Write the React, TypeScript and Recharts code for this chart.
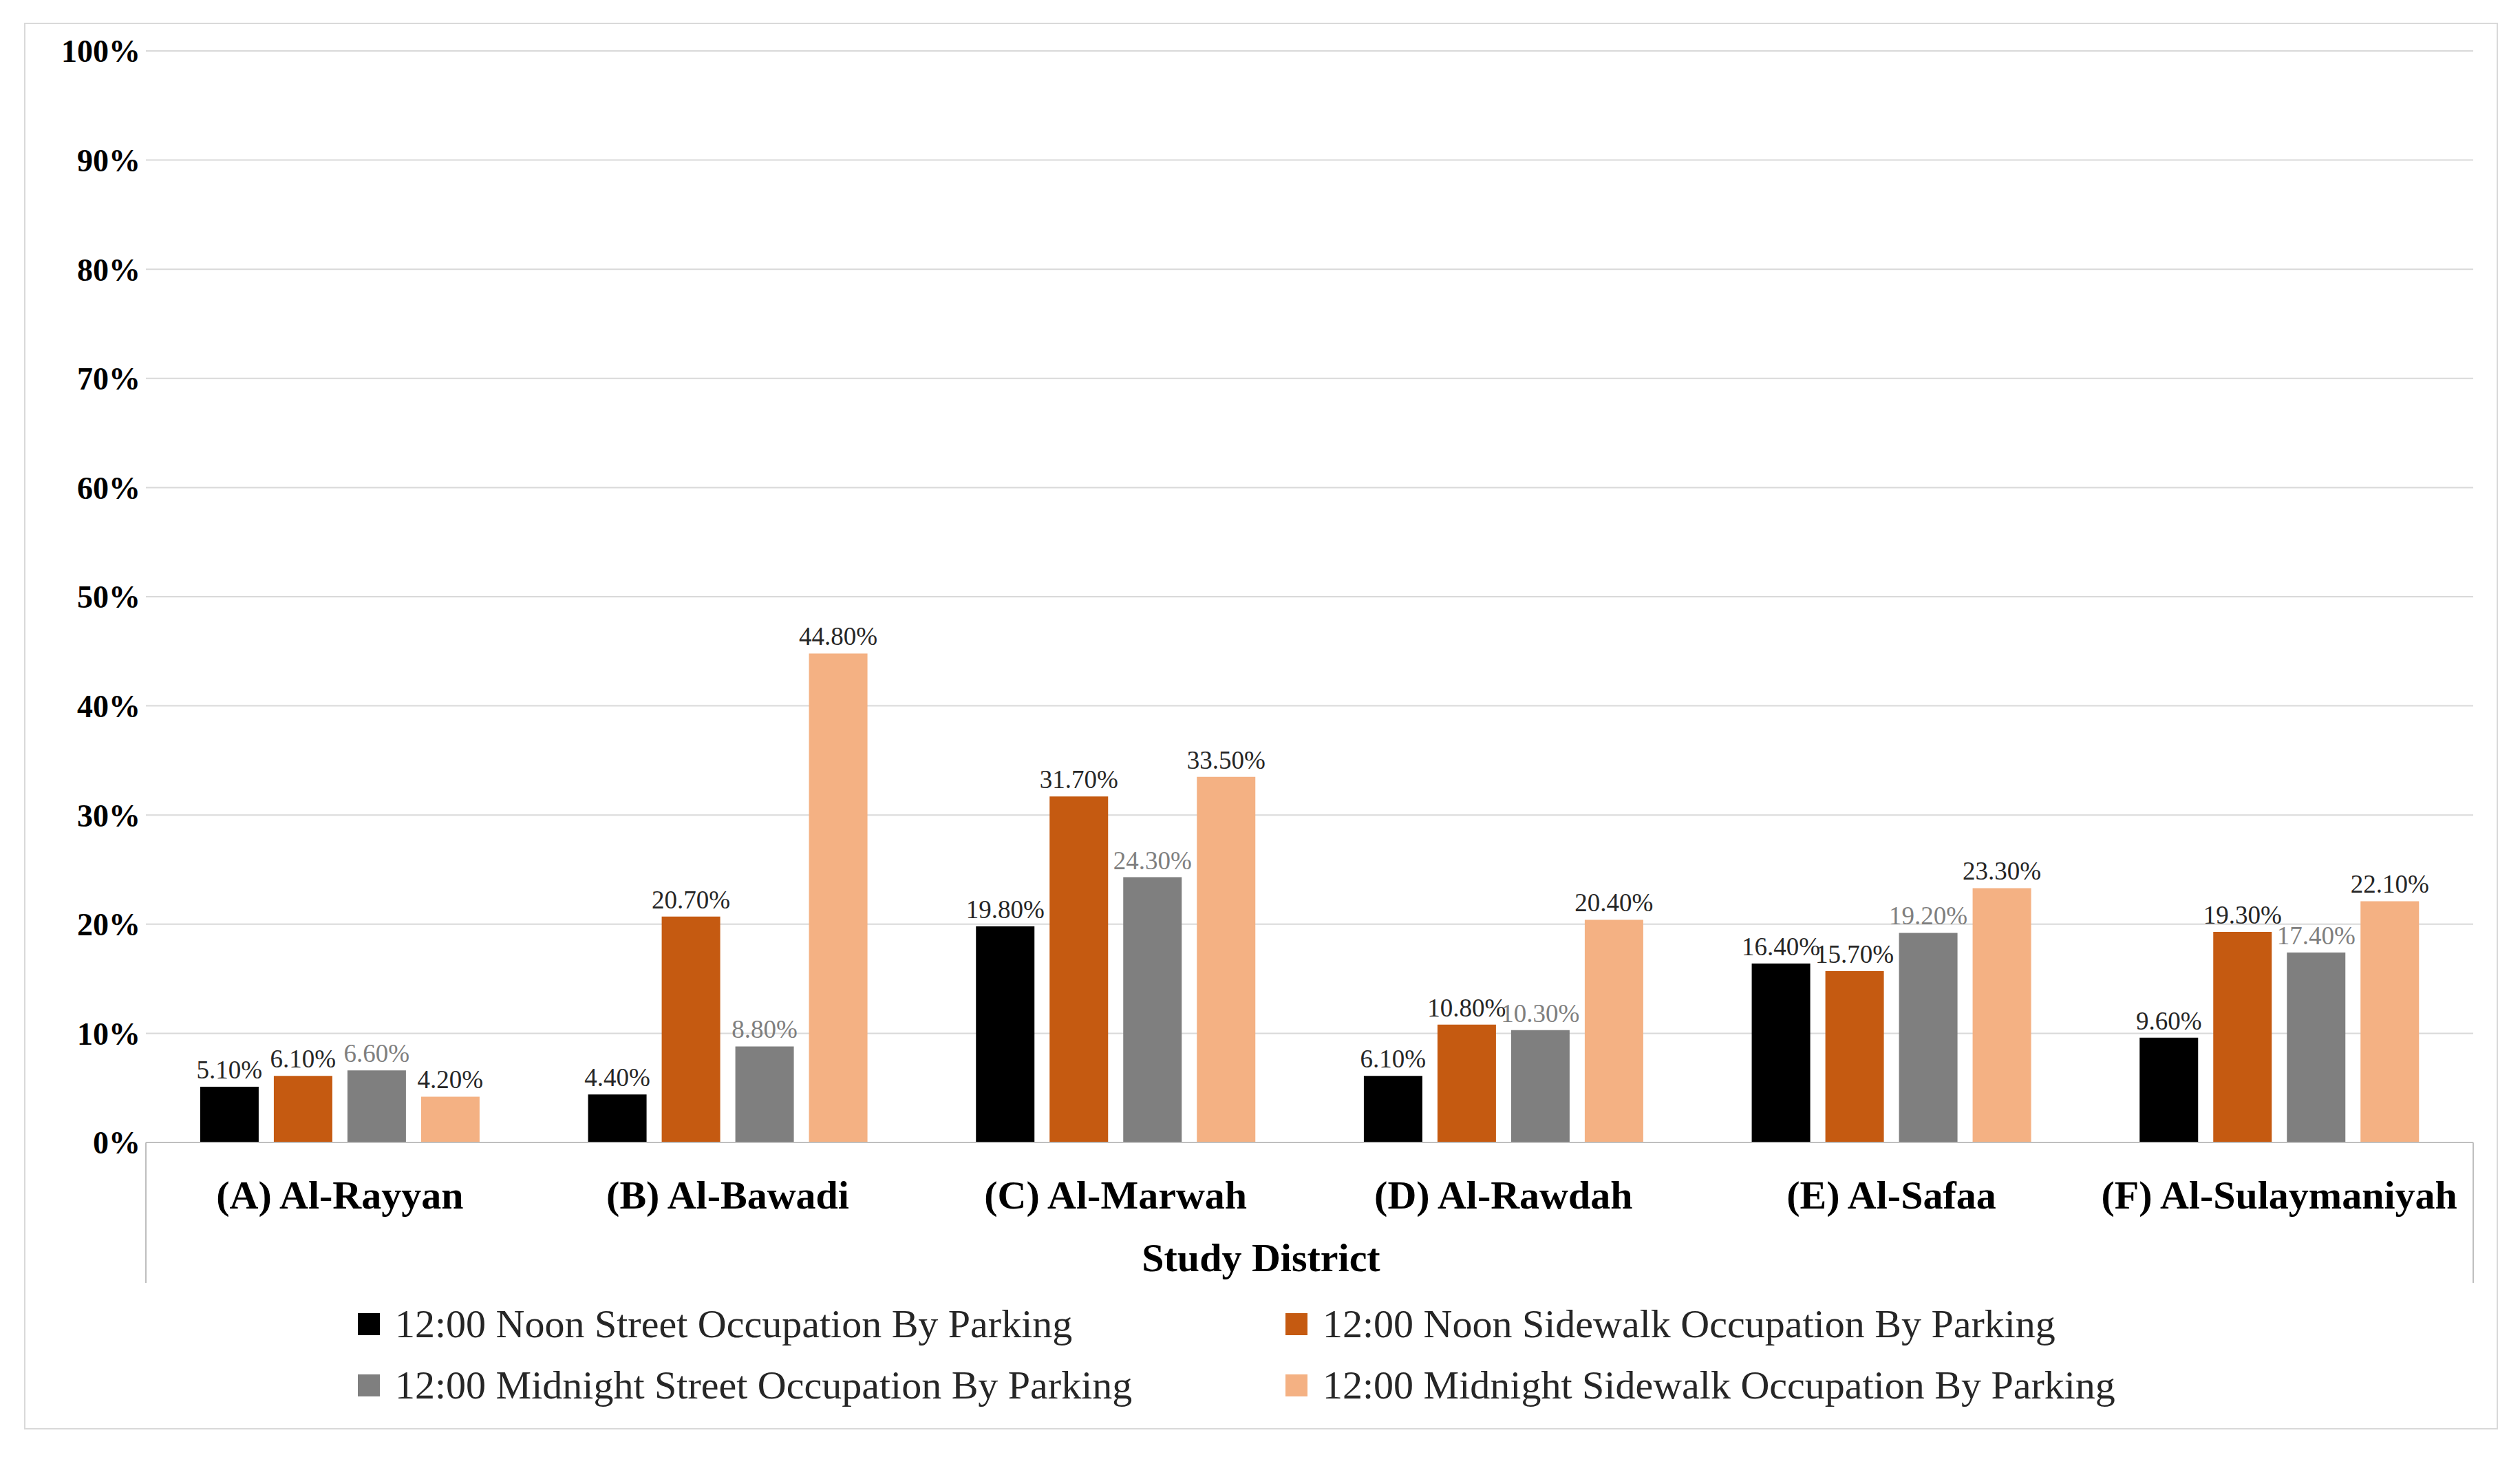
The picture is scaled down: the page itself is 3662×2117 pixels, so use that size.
import { Bar, BarChart, CartesianGrid, LabelList, XAxis, YAxis } from "recharts";

const districts = ["(A) Al-Rayyan", "(B) Al-Bawadi", "(C) Al-Marwah", "(D) Al-Rawdah", "(E) Al-Safaa", "(F) Al-Sulaymaniyah"];
const noonStreet = [5.1, 4.4, 19.8, 6.1, 16.4, 9.6];
const noonSidewalk = [6.1, 20.7, 31.7, 10.8, 15.7, 19.3];
const midStreet = [6.6, 8.8, 24.3, 10.3, 19.2, 17.4];
const midSidewalk = [4.2, 44.8, 33.5, 20.4, 23.3, 22.1];
const yTicks = [0, 10, 20, 30, 40, 50, 60, 70, 80, 90, 100];

const series = [
  { key: "ns", name: "12:00 Noon Street Occupation By Parking", color: "#000000", label: "#262626" },
  { key: "nw", name: "12:00 Noon Sidewalk Occupation By Parking", color: "#c55a11", label: "#262626" },
  { key: "ms", name: "12:00 Midnight Street Occupation By Parking", color: "#7f7f7f", label: "#7f7f7f" },
  { key: "mw", name: "12:00 Midnight Sidewalk Occupation By Parking", color: "#f4b183", label: "#262626" },
];

const data = districts.map((d, i) => ({
  name: d,
  ns: noonStreet[i],
  nw: noonSidewalk[i],
  ms: midStreet[i],
  mw: midSidewalk[i],
}));

const FONT = "'Liberation Serif', 'Times New Roman', serif";
const W = 3591;
const H = 2040;
const BAND = (W - 175 - 34) / districts.length;

function CatTick({ x, y, payload, index }: any) {
  return (
    <g>
      {index === 0 && (
        <line x1={x - BAND / 2} x2={x - BAND / 2} y1={y - 8} y2={y + 196} stroke="#bfbfbf" strokeWidth={2} />
      )}
      {index === districts.length - 1 && (
        <line x1={x + BAND / 2} x2={x + BAND / 2} y1={y - 8} y2={y + 196} stroke="#bfbfbf" strokeWidth={2} />
      )}
      <text x={x} y={y + 88} textAnchor="middle" fontFamily={FONT} fontWeight="bold" fontSize={58} fill="#000">
        {payload.value}
      </text>
    </g>
  );
}

export default function App() {
  return (
    <div style={{ position: "absolute", left: 35, top: 33, width: W, height: H, border: "2px solid #d9d9d9", background: "#fff", fontFamily: FONT }}>
      <BarChart width={W} height={H} data={data} margin={{ top: 39, right: 34, bottom: 385, left: 0 }} barCategoryGap="14%" barGap={22}>
        <CartesianGrid vertical={false} stroke="#d9d9d9" strokeWidth={2} />
        <XAxis dataKey="name" tick={<CatTick />} tickLine={false} axisLine={{ stroke: "#bfbfbf", strokeWidth: 2 }} interval={0} />
        <YAxis
          width={175}
          domain={[0, 100]}
          ticks={yTicks}
          tickFormatter={(v) => `${v}%`}
          axisLine={false}
          tickLine={false}
          tick={{ fontFamily: FONT, fontWeight: "bold", fontSize: 46, fill: "#000" }}
        />
        {series.map((s) => (
          <Bar key={s.key} dataKey={s.key} name={s.name} fill={s.color} isAnimationActive={false}>
            <LabelList
              dataKey={s.key}
              position="top"
              offset={12}
              formatter={(v: any) => `${Number(v).toFixed(2)}%`}
              style={{ fontFamily: FONT, fontSize: 37, fill: s.label }}
            />
          </Bar>
        ))}
      </BarChart>
      <div style={{ position: "absolute", left: 0, width: W, top: 1826 - 33 - 34, textAlign: "center", fontWeight: "bold", fontSize: 58 }}>
        Study District
      </div>
      {series.map((s, i) => (
        <div
          key={s.key}
          style={{
            position: "absolute",
            left: i % 2 === 0 ? 483 : 1831,
            top: (i < 2 ? 1924 : 2013) - 33 - 36,
            display: "flex",
            alignItems: "center",
            fontSize: 58,
            color: "#262626",
            whiteSpace: "nowrap",
          }}
        >
          <span style={{ display: "inline-block", width: 32, height: 32, background: s.color, marginRight: 22 }} />
          {s.name}
        </div>
      ))}
    </div>
  );
}
